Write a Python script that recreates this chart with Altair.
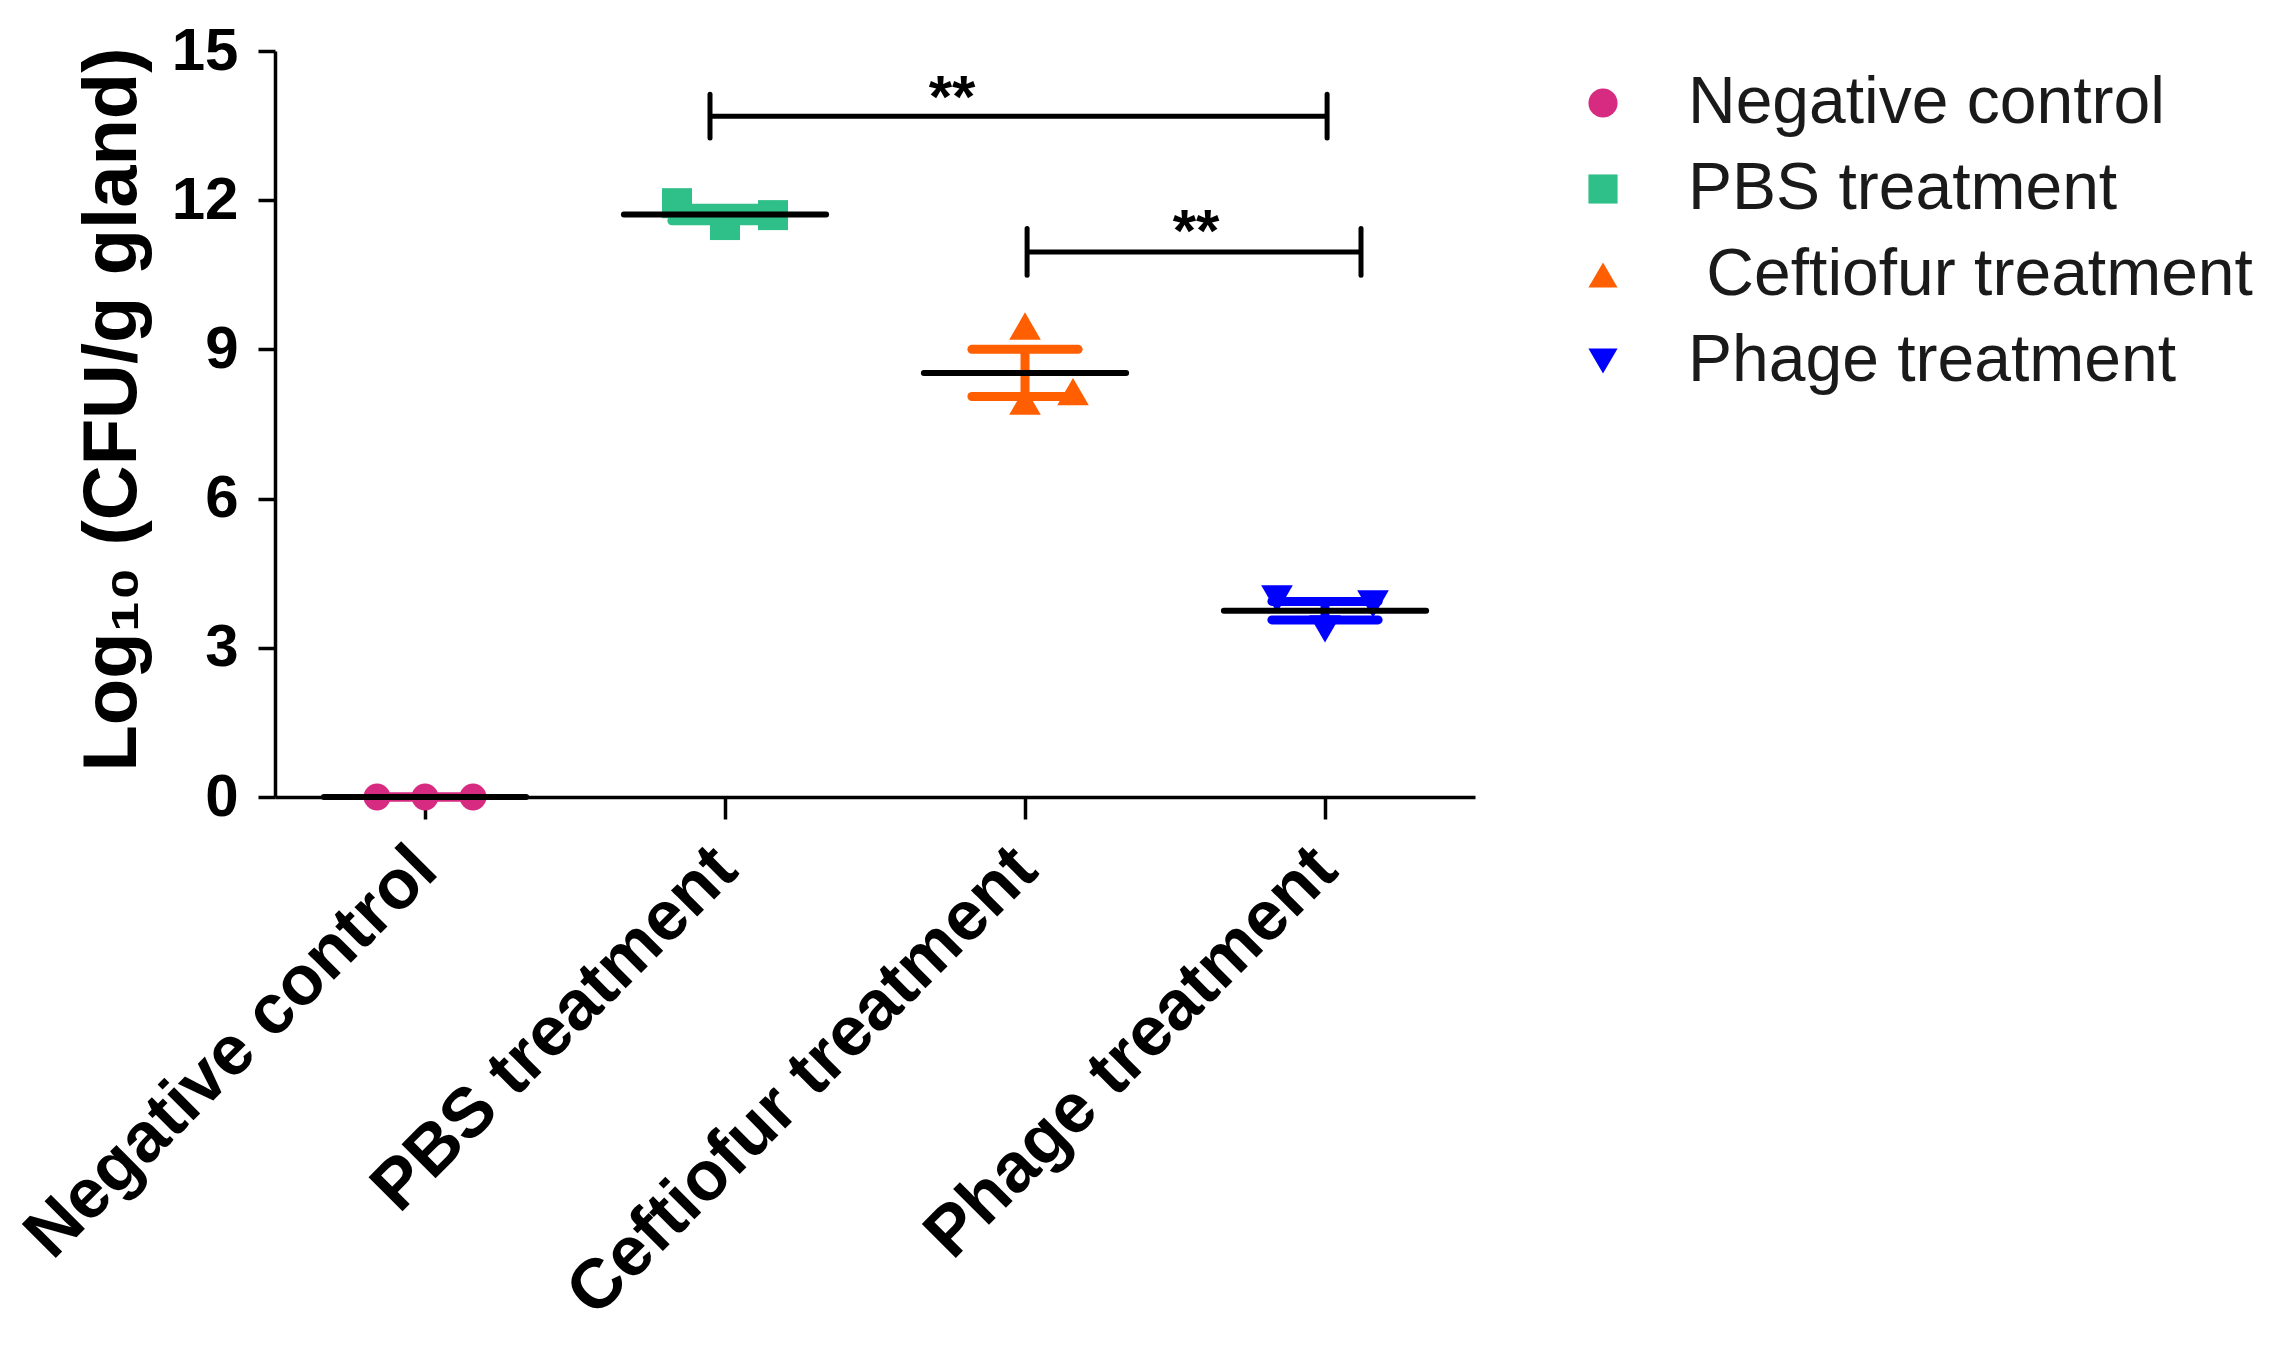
import altair as alt
import pandas as pd

# ---------------- data ----------------
groups = ["Negative control", "PBS treatment", "Ceftiofur treatment", "Phage treatment"]
colors = ["#D62B80", "#2FBF88", "#FF5F00", "#0000FF"]
shapes = ["circle", "square", "triangle-up", "triangle-down"]
marker_sizes = [720, 900, 1000, 1000]

# replicate values, log10 CFU/g gland
neg_values = [0.0, 0.0, 0.0]
pbs_values = [11.94, 11.50, 11.70]
cef_values = [9.47, 7.96, 8.15]
phage_values = [3.98, 3.38, 3.88]
# horizontal scatter of the replicates inside each column (category units)
neg_jitter = [-0.16, 0.0, 0.16]
pbs_jitter = [-0.16, 0.0, 0.16]
cef_jitter = [0.0, 0.0, 0.16]
phage_jitter = [-0.16, 0.0, 0.16]

# significance brackets
bracket_x1 = [0.95, 2.007]
bracket_x2 = [3.007, 3.12]
bracket_y = [13.69, 10.96]
bracket_half_tick = [0.44, 0.47]
star_x = [1.757, 2.57]
star_y = [13.68, 10.98]
star_text = ["**", "**"]

y_ticks = [0, 3, 6, 9, 12, 15]

FONT = "Liberation Sans"

# ---------------- tables ----------------
all_values = [neg_values, pbs_values, cef_values, phage_values]
all_jitter = [neg_jitter, pbs_jitter, cef_jitter, phage_jitter]

rows = []
for gi, (g, vals, jit) in enumerate(zip(groups, all_values, all_jitter)):
    for v, j in zip(vals, jit):
        rows.append({"group": g, "gx": gi, "xpos": gi + j, "value": v,
                     "msize": marker_sizes[gi], "ecolor": colors[gi]})
pts = pd.DataFrame(rows)

summ = pts.groupby(["group", "gx", "ecolor"], sort=False)["value"].agg(["mean", "std", "count"]).reset_index()
summ["sem"] = summ["std"] / summ["count"] ** 0.5
summ["lo"] = summ["mean"] - summ["sem"]
summ["hi"] = summ["mean"] + summ["sem"]
summ["mx1"] = summ["gx"] - 0.337
summ["mx2"] = summ["gx"] + 0.337
summ["cx1"] = summ["gx"] - 0.177
summ["cx2"] = summ["gx"] + 0.177
caps = pd.concat([summ.assign(cy=summ["lo"]), summ.assign(cy=summ["hi"])])

br = pd.DataFrame({"x1": bracket_x1, "x2": bracket_x2, "y": bracket_y,
                   "ylo": [a - b for a, b in zip(bracket_y, bracket_half_tick)],
                   "yhi": [a + b for a, b in zip(bracket_y, bracket_half_tick)]})
br_ends = pd.concat([
    br[["x1", "ylo", "yhi"]].rename(columns={"x1": "bx"}),
    br[["x2", "ylo", "yhi"]].rename(columns={"x2": "bx"}),
])
stars = pd.DataFrame({"x": star_x, "y": star_y, "t": star_text})

# ---------------- scales ----------------
label_expr = " : ".join(f"datum.value == {i} ? '{g}'" for i, g in enumerate(groups)) + " : ''"
xscale = alt.Scale(domain=[-0.5, 3.5], nice=False, zero=False)
yscale = alt.Scale(domain=[0, 15], nice=False)

x_axis = alt.Axis(values=[0, 1, 2, 3], labelExpr=label_expr, title=None, grid=False,
                  labelAngle=-45, labelFont=FONT, labelFontWeight="bold", labelFontSize=70,
                  labelColor="black", labelPadding=15, labelOffset=-24, labelLimit=0,
                  tickSize=22, tickWidth=3.5, tickColor="black",
                  domainWidth=3.5, domainColor="black", labelOverlap=False, labelBound=False,
                  labelFlush=False)
y_axis = alt.Axis(values=y_ticks, title="Log₁₀  (CFU/g gland)", grid=False,
                  labelFont=FONT, labelFontWeight="bold", labelFontSize=60, labelColor="black",
                  labelPadding=20, tickSize=17, tickWidth=3.5, tickColor="black",
                  domainWidth=3.5, domainColor="black",
                  titleFont=FONT, titleFontWeight="bold", titleFontSize=76, titleColor="black",
                  titlePadding=20, titleY=358)

leg_expr = "datum.label == 'Ceftiofur treatment' ? '\u200b\u00a0Ceftiofur treatment' : datum.label"
legend = alt.Legend(title=None, orient="none", legendX=1295, legendY=19,
                    labelFont=FONT, labelFontSize=66, labelColor="#1a1a1a", labelExpr=leg_expr,
                    symbolSize=850, symbolStrokeWidth=0, symbolOpacity=1, rowPadding=20,
                    labelOffset=52, padding=0, labelLimit=0)

base_x = alt.X("xpos:Q", scale=xscale, axis=x_axis)

points = alt.Chart(pts).mark_point(filled=True, opacity=1).encode(
    x=base_x,
    y=alt.Y("value:Q", scale=yscale, axis=y_axis),
    color=alt.Color("group:N", scale=alt.Scale(domain=groups, range=colors), legend=legend),
    shape=alt.Shape("group:N", scale=alt.Scale(domain=groups, range=shapes), legend=legend),
    size=alt.Size("msize:Q", scale=None, legend=None),
)

stems = alt.Chart(summ).mark_rule(strokeWidth=9, strokeCap="butt").encode(
    x=alt.X("gx:Q", scale=xscale),
    y=alt.Y("lo:Q", scale=yscale),
    y2="hi:Q",
    color=alt.Color("ecolor:N", scale=None),
)
cap_rules = alt.Chart(caps).mark_rule(strokeWidth=9, strokeCap="round").encode(
    x=alt.X("cx1:Q", scale=xscale),
    x2="cx2:Q",
    y=alt.Y("cy:Q", scale=yscale),
    color=alt.Color("ecolor:N", scale=None),
)
means = alt.Chart(summ).mark_rule(strokeWidth=6, color="black", strokeCap="round").encode(
    x=alt.X("mx1:Q", scale=xscale),
    x2="mx2:Q",
    y=alt.Y("mean:Q", scale=yscale),
)
br_h = alt.Chart(br).mark_rule(strokeWidth=5, color="black").encode(
    x=alt.X("x1:Q", scale=xscale), x2="x2:Q", y=alt.Y("y:Q", scale=yscale))
br_v = alt.Chart(br_ends).mark_rule(strokeWidth=5, color="black", strokeCap="round").encode(
    x=alt.X("bx:Q", scale=xscale), y=alt.Y("ylo:Q", scale=yscale), y2="yhi:Q")
star_marks = alt.Chart(stars).mark_text(font=FONT, fontWeight="bold", fontSize=60,
                                         color="black", baseline="alphabetic", align="center").encode(
    x=alt.X("x:Q", scale=xscale), y=alt.Y("y:Q", scale=yscale), text="t:N")

chart = alt.layer(points, stems, cap_rules, means, br_h, br_v, star_marks).properties(
    width=1200, height=746,
    autosize=alt.AutoSizeParams(type="none"),
    padding={"left": 267, "top": 43, "right": 788, "bottom": 550},
).configure(background="white").configure_view(stroke=None)

chart.save("out.html", embed_options={"renderer": "svg", "actions": False})
